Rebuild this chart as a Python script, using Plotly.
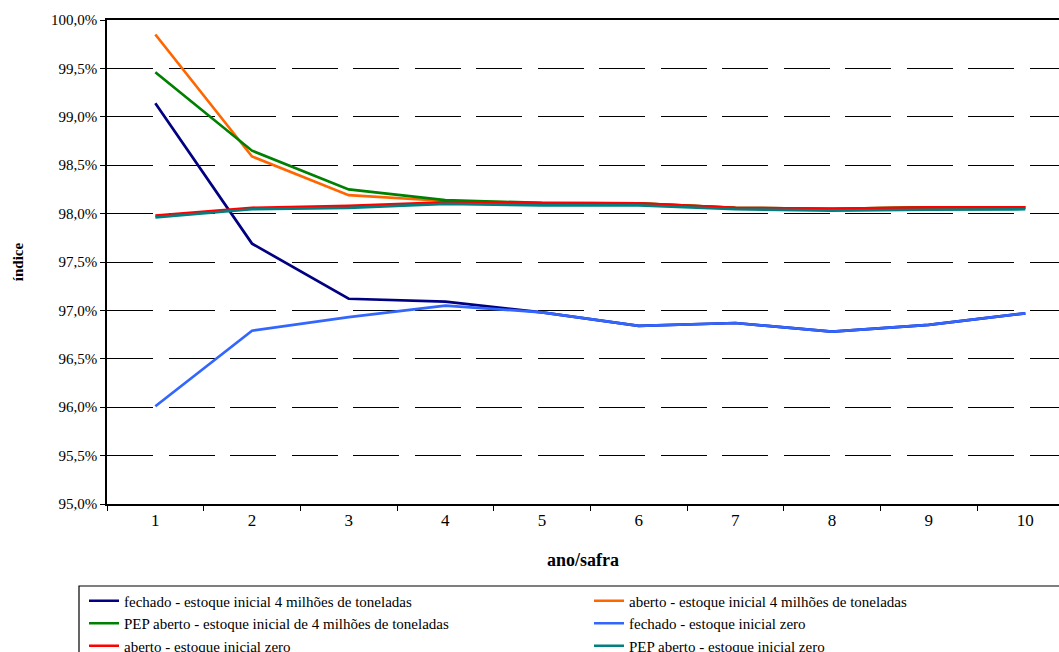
import plotly.graph_objects as go

anos = ["1", "2", "3", "4", "5", "6", "7", "8", "9", "10"]

fechado_4m = [99.14, 97.69, 97.12, 97.09, 96.98, 96.84, 96.87, 96.78, 96.85, 96.97]
aberto_4m = [99.85, 98.59, 98.19, 98.13, 98.11, 98.105, 98.06, 98.05, 98.065, 98.065]
pep_4m = [99.46, 98.65, 98.25, 98.14, 98.11, 98.105, 98.06, 98.05, 98.065, 98.065]
fechado_zero = [96.01, 96.79, 96.93, 97.05, 96.98, 96.84, 96.87, 96.78, 96.85, 96.97]
aberto_zero = [97.98, 98.06, 98.08, 98.115, 98.105, 98.105, 98.06, 98.05, 98.065, 98.065]
pep_zero = [97.96, 98.045, 98.06, 98.10, 98.085, 98.085, 98.045, 98.03, 98.04, 98.045]

series = [
    ("fechado - estoque inicial 4 milhões de toneladas", fechado_4m, "#000080", "legend"),
    ("aberto - estoque inicial 4 milhões de toneladas", aberto_4m, "#FF6600", "legend2"),
    ("PEP aberto - estoque inicial de 4 milhões de toneladas", pep_4m, "#008000", "legend"),
    ("fechado - estoque inicial zero", fechado_zero, "#3366FF", "legend2"),
    ("aberto - estoque inicial zero", aberto_zero, "#FF0000", "legend"),
    ("PEP aberto - estoque inicial zero", pep_zero, "#008080", "legend2"),
]

y_ticks = [0.95, 0.955, 0.96, 0.965, 0.97, 0.975, 0.98, 0.985, 0.99, 0.995, 1.0]

W, H = 1059, 652
L, T, B = 107, 20, 504
plot_h = B - T
plot_w = W - L

def py(px):
    return 1 - (px - T) / plot_h

def pxx(px):
    return (px - L) / plot_w

fig = go.Figure()
for name, vals, color, leg in series:
    fig.add_trace(go.Scatter(
        x=anos, y=[v / 100 for v in vals], mode="lines", name=name,
        line=dict(color=color, width=2.7), legend=leg,
    ))

serif = "Liberation Serif"

fig.update_layout(
    width=W, height=H,
    margin=dict(l=L, r=0, t=T, b=H - B, autoexpand=False),
    paper_bgcolor="white", plot_bgcolor="white",
    separators=",.",
    font=dict(family=serif, color="black", size=15),
    showlegend=True,
    legend=dict(
        x=pxx(84), y=py(584.5), xanchor="left", yanchor="top",
        xref="paper", yref="paper", orientation="v",
        font=dict(family=serif, size=15, color="black"),
        bgcolor="rgba(0,0,0,0)", borderwidth=0,
    ),
    legend2=dict(
        x=pxx(589), y=py(584.5), xanchor="left", yanchor="top",
        xref="paper", yref="paper", orientation="v",
        font=dict(family=serif, size=15, color="black"),
        bgcolor="rgba(0,0,0,0)", borderwidth=0,
    ),
    xaxis=dict(
        type="category", range=[-0.5, -0.5 + plot_w / 96.67],
        showline=True, linecolor="black", linewidth=1.5, mirror=True,
        ticks="outside", ticklen=5, tickcolor="black", tickson="boundaries",
        showgrid=False, tickfont=dict(family=serif, size=17),
        title=dict(text="ano/safra", standoff=24,
                   font=dict(family=serif, size=18, weight="bold")),
        automargin=False,
    ),
    yaxis=dict(
        range=[0.95, 1.0], tickvals=y_ticks, tickformat=".1%",
        showline=True, linecolor="black", linewidth=1.5,
        ticks="outside", ticklen=5, tickcolor="black",
        showgrid=True, gridcolor="black", gridwidth=1, griddash="46px,15.5px",
        zeroline=False, tickfont=dict(family=serif, size=15),
        title=dict(text="índice", standoff=24,
                   font=dict(family=serif, size=15, weight="bold")),
        automargin=False,
    ),
    shapes=[dict(
        type="rect", xref="paper", yref="paper",
        x0=pxx(79), x1=pxx(1100), y0=py(586), y1=py(665),
        line=dict(color="black", width=1.2), fillcolor="rgba(0,0,0,0)",
        layer="below",
    )],
)

fig.write_html("out.html")
